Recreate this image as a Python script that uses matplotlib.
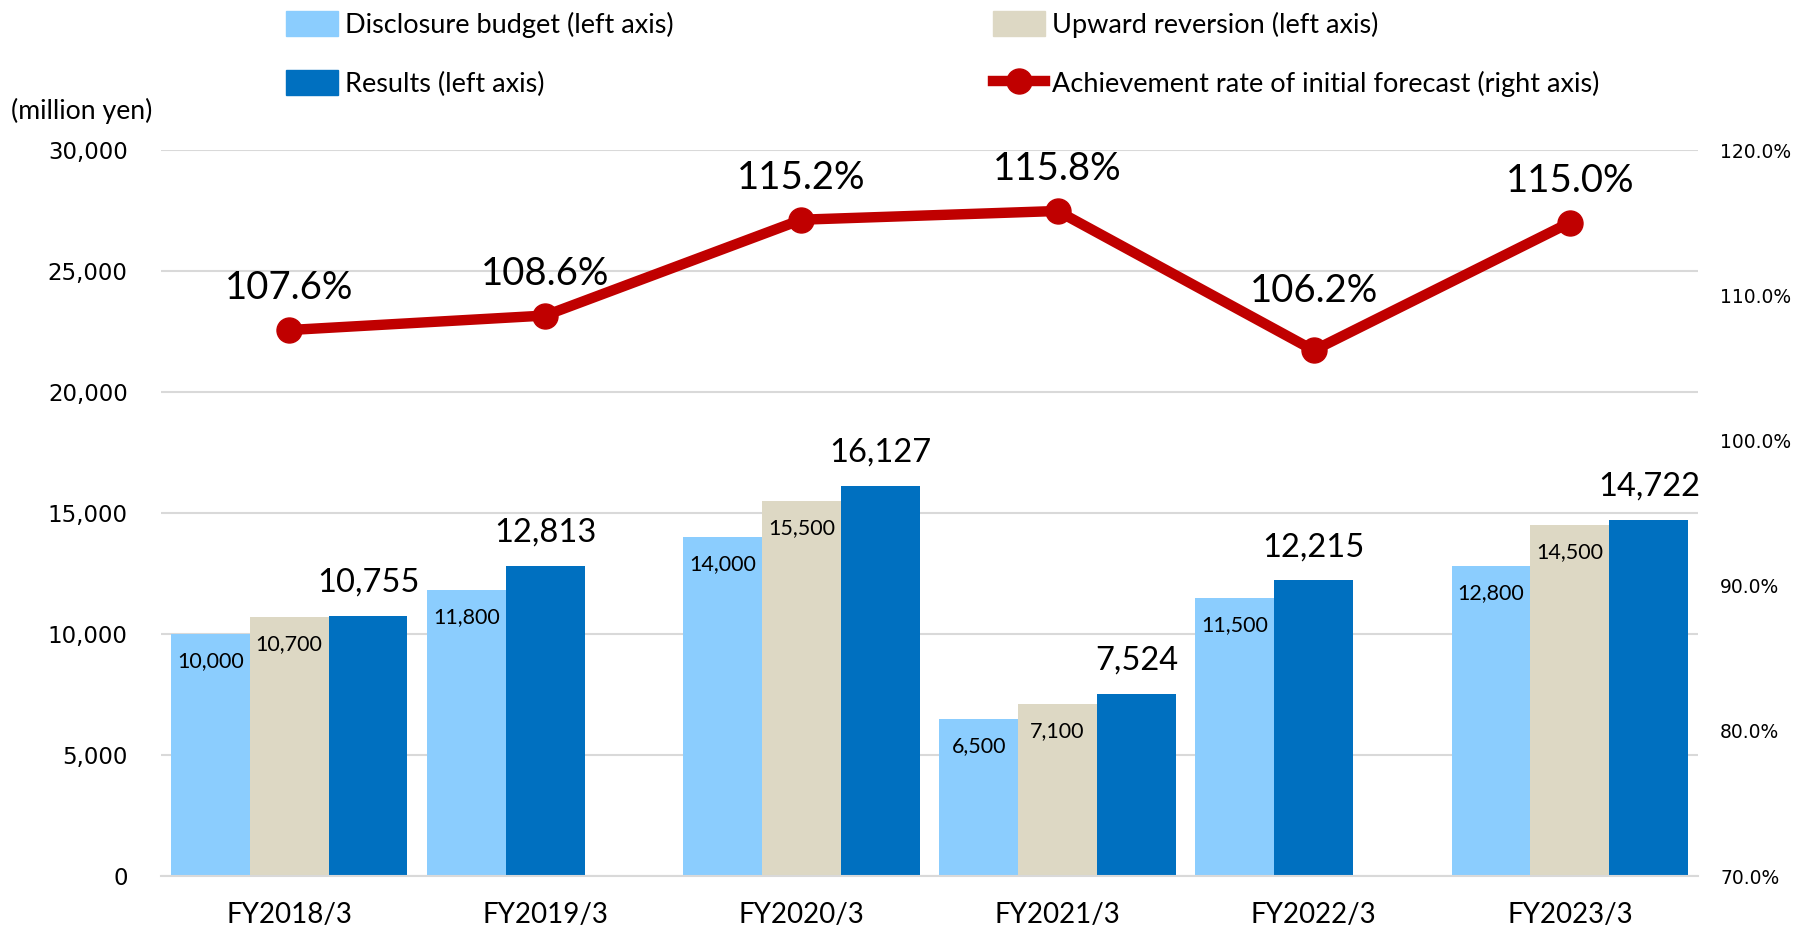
import matplotlib
matplotlib.use("Agg")
import matplotlib.pyplot as plt
import numpy as np
from matplotlib.patches import Patch
from matplotlib.lines import Line2D

# データ
categories = ["FY2018/3", "FY2019/3", "FY2020/3", "FY2021/3", "FY2022/3", "FY2023/3"]
budget = [10000, 11800, 14000, 6500, 11500, 12800]
upward = [10700, None, 15500, 7100, None, 14500]
results = [10755, 12813, 16127, 7524, 12215, 14722]
rate = [107.6, 108.6, 115.2, 115.8, 106.2, 115.0]

c_budget = "#8BCDFE"
c_upward = "#DDD8C4"
c_results = "#0070C0"
c_rate = "#C00000"
txt = "Lato"

fig = plt.figure(figsize=(17.94, 9.33), dpi=100)
ax = fig.add_axes([161 / 1794, 1 - 876 / 933, (1698 - 161) / 1794, (876 - 150) / 933])
ax2 = ax.twinx()

w = 0.308
for i in range(len(categories)):
    bars = [(budget[i], c_budget, False)]
    if upward[i] is not None:
        bars.append((upward[i], c_upward, False))
    bars.append((results[i], c_results, True))
    for k, (v, col, big) in enumerate(bars):
        xpos = i + (k - 1) * w
        ax.bar(xpos, v, width=w, color=col, zorder=2)
        if big:
            ax.annotate(f"{v:,}", (xpos, v), xytext=(0, 24), textcoords="offset points",
                        ha="center", va="center", fontsize=23.5, family=txt)
        else:
            ax.annotate(f"{v:,}", (xpos, v), xytext=(0, -19.5), textcoords="offset points",
                        ha="center", va="center", fontsize=15.5, family=txt)

ax.set_xlim(-0.5, len(categories) - 0.5)
ax.set_ylim(0, 30000)
ax.set_yticks(np.arange(0, 30001, 5000))
ax.set_yticklabels([f"{t:,}" for t in range(0, 30001, 5000)], fontsize=16.5, family="DejaVu Sans")
ax.set_xticks(range(len(categories)))
ax.set_xticklabels(categories, fontsize=20, family=txt)
ax.tick_params(axis="x", length=0, pad=19)
ax.tick_params(axis="y", length=0, pad=24)
ax.grid(axis="y", color="#D9D9D9", linewidth=1.5, zorder=0)
ax.set_axisbelow(True)
for s in ["top", "left", "right"]:
    ax.spines[s].set_visible(False)
ax.spines["bottom"].set_color("#D9D9D9")
ax.spines["bottom"].set_linewidth(1.5)

# 右軸：達成率
x = np.arange(len(categories))
ax2.plot(x, rate, color=c_rate, linewidth=7.5, marker="o", markersize=18, zorder=3)
lift = {4: 42.5}  # 谷の点だけラベルを高めに
for i, (xi, r) in enumerate(zip(x, rate)):
    ax2.annotate(f"{r:.1f}%", (xi, r), xytext=(0, lift.get(i, 30)), textcoords="offset points",
                 ha="center", va="center", fontsize=27.5, family=txt, zorder=4)
ax2.set_ylim(70, 120)
ax2.set_yticks(np.arange(70, 121, 10))
ax2.set_yticklabels([f"{t:.1f}%" for t in range(70, 121, 10)], fontsize=13.5, family="DejaVu Sans")
ax2.tick_params(axis="y", length=0, pad=16)
for s in ax2.spines.values():
    s.set_visible(False)

fig.text(11 / 1794, 1 - 111 / 933, "(million yen)", fontsize=19.2, family=txt, va="center", ha="left")

# 凡例（2列を別々に配置）
leg_kw = dict(loc="upper left", frameon=False, prop={"family": txt, "size": 19.5},
              handlelength=1.92, handleheight=1.03, handletextpad=0.25,
              labelspacing=1.2, borderaxespad=0, borderpad=0)
col1 = [
    Patch(color=c_budget, label="Disclosure budget (left axis)"),
    Patch(color=c_results, label="Results (left axis)"),
]
col2 = [
    Patch(color=c_upward, label="Upward reversion (left axis)"),
    Line2D([], [], color=c_rate, linewidth=7.5, marker="o", markersize=18,
           label="Achievement rate of initial forecast (right axis)"),
]
fig.legend(handles=col1, bbox_to_anchor=(286 / 1794, 1 - 11 / 933), **leg_kw)
fig.legend(handles=col2, bbox_to_anchor=(993 / 1794, 1 - 11 / 933), **leg_kw)

fig.savefig("out.png", dpi=100)
